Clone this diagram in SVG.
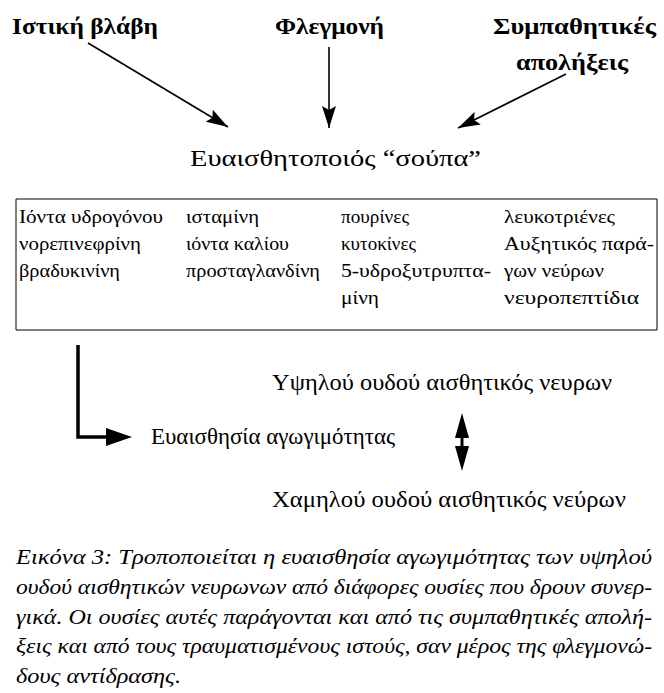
<svg xmlns="http://www.w3.org/2000/svg" width="664" height="693" viewBox="0 0 664 693">
<defs>
<style>
text{font-family:'Liberation Serif','Times New Roman','DejaVu Serif',serif;fill:#000}
.hd{font-weight:bold;font-size:24px}
.tx{font-size:23px}
.cell{font-size:19px}
.cap{font-style:italic;font-size:21px}
.ln{stroke:#000;stroke-width:1.6;fill:none}
.thick{stroke:#000;stroke-width:3.5;fill:none}
</style>
<marker id="ah" viewBox="0 0 22 14" refX="22" refY="7" markerWidth="22" markerHeight="14" markerUnits="userSpaceOnUse" orient="auto">
<path d="M0,0 L22,7 L0,14 L4,7 z" fill="#000"/>
</marker>
</defs>
<rect width="664" height="693" fill="#fff"/>

<g id="n-istiki"><text class="hd" x="12" y="34" textLength="146" lengthAdjust="spacingAndGlyphs">Ιστική βλάβη</text></g>
<g id="n-flegmoni"><text class="hd" x="275" y="34" textLength="109" lengthAdjust="spacingAndGlyphs">Φλεγμονή</text></g>
<g id="n-sympath"><text class="hd" x="493" y="34" textLength="163" lengthAdjust="spacingAndGlyphs">Συμπαθητικές</text><text class="hd" x="516" y="70" textLength="112" lengthAdjust="spacingAndGlyphs">απολήξεις</text></g>
<g id="n-soupa"><text class="tx" x="190" y="166" textLength="291" lengthAdjust="spacingAndGlyphs">Ευαισθητοποιός “σούπα”</text></g>

<g id="n-table">
<path d="M16,199 H657 V330 H16 Z" fill="none" stroke="#000" stroke-width="1"/>
<text class="cell" x="19" y="223" textLength="144" lengthAdjust="spacingAndGlyphs">Ιόντα υδρογόνου</text>
<text class="cell" x="19" y="250" textLength="122" lengthAdjust="spacingAndGlyphs">νορεπινεφρίνη</text>
<text class="cell" x="19" y="277" textLength="101" lengthAdjust="spacingAndGlyphs">βραδυκινίνη</text>
<text class="cell" x="186" y="223" textLength="73" lengthAdjust="spacingAndGlyphs">ισταμίνη</text>
<text class="cell" x="186" y="250" textLength="103" lengthAdjust="spacingAndGlyphs">ιόντα καλίου</text>
<text class="cell" x="186" y="277" textLength="134" lengthAdjust="spacingAndGlyphs">προσταγλανδίνη</text>
<text class="cell" x="341" y="223" textLength="68" lengthAdjust="spacingAndGlyphs">πουρίνες</text>
<text class="cell" x="341" y="250" textLength="75" lengthAdjust="spacingAndGlyphs">κυτοκίνες</text>
<text class="cell" x="341" y="277" textLength="150" lengthAdjust="spacingAndGlyphs">5-υδροξυτρυπτα-</text>
<text class="cell" x="341" y="304" textLength="38" lengthAdjust="spacingAndGlyphs">μίνη</text>
<text class="cell" x="504" y="223" textLength="111" lengthAdjust="spacingAndGlyphs">λευκοτριένες</text>
<text class="cell" x="504" y="250" textLength="150" lengthAdjust="spacingAndGlyphs">Αυξητικός παρά-</text>
<text class="cell" x="504" y="277" textLength="100" lengthAdjust="spacingAndGlyphs">γων νεύρων</text>
<text class="cell" x="504" y="304" textLength="135" lengthAdjust="spacingAndGlyphs">νευροπεπτίδια</text>
</g>

<g id="n-ypsilou"><text class="tx" x="272" y="390" textLength="340" lengthAdjust="spacingAndGlyphs">Υψηλού ουδού αισθητικός νευρων</text></g>
<g id="n-agogimotita"><text class="tx" x="151" y="444" textLength="244" lengthAdjust="spacingAndGlyphs">Ευαισθησία αγωγιμότητας</text></g>
<g id="n-xamilou"><text class="tx" x="272" y="507" textLength="354" lengthAdjust="spacingAndGlyphs">Χαμηλού ουδού αισθητικός νεύρων</text></g>

<g id="connectors">
<line class="ln" x1="88" y1="43" x2="228" y2="127" marker-end="url(#ah)"/>
<line class="ln" x1="329" y1="47" x2="329" y2="128" marker-end="url(#ah)"/>
<line class="ln" x1="566" y1="74" x2="458" y2="128" marker-end="url(#ah)"/>
<polyline class="thick" points="78,345 78,437 110,437"/>
<path d="M106,428 L132,437 L106,446 Z" fill="#000"/>
<line x1="462" y1="430" x2="462" y2="454" stroke="#000" stroke-width="3"/>
<path d="M455,438 L462,413 L469,438 Z" fill="#000"/>
<path d="M455,446 L462,471 L469,446 Z" fill="#000"/>
</g>

<g id="caption">
<text class="cap" x="16" y="564" textLength="636" lengthAdjust="spacingAndGlyphs">Εικόνα 3: Τροποποιείται η ευαισθησία αγωγιμότητας των υψηλού</text>
<text class="cap" x="16" y="594" textLength="636" lengthAdjust="spacingAndGlyphs">ουδού αισθητικών νευρωνων από διάφορες ουσίες που δρουν συνερ-</text>
<text class="cap" x="16" y="624" textLength="636" lengthAdjust="spacingAndGlyphs">γικά. Οι ουσίες αυτές παράγονται και από τις συμπαθητικές απολή-</text>
<text class="cap" x="16" y="653" textLength="636" lengthAdjust="spacingAndGlyphs">ξεις και από τους τραυματισμένους ιστούς, σαν μέρος της φλεγμονώ-</text>
<text class="cap" x="16" y="683" textLength="165" lengthAdjust="spacingAndGlyphs">δους αντίδρασης.</text>
</g>
</svg>
